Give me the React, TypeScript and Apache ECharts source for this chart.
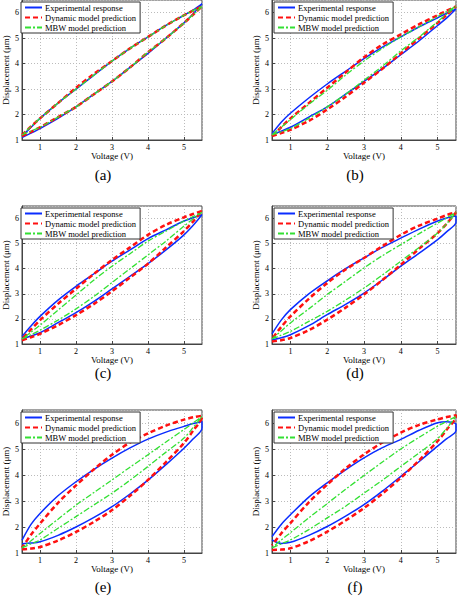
import React, { useEffect, useRef } from 'react';
import * as echarts from 'echarts';

// Voltage samples (V) shared by every loop branch
const xs = [0.5, 0.75, 1, 1.5, 2, 2.5, 3, 3.5, 4, 4.5, 5, 5.25, 5.5];
const seriesNames = ['Experimental response', 'Dynamic model prediction', 'MBW model prediction'];
const panelLabels = ['(a)', '(b)', '(c)', '(d)', '(e)', '(f)'];
const xAxisName = 'Voltage (V)';
const yAxisName = 'Displacement (μm)';

// (a)
const expUpA = [1.15, 1.5, 1.85, 2.45, 3.0, 3.55, 4.1, 4.6, 5.05, 5.5, 5.9, 6.1, 6.35];
const expLoA = [1.1, 1.27, 1.45, 1.85, 2.3, 2.8, 3.3, 3.85, 4.4, 5.0, 5.6, 5.95, 6.35];
const dynUpA = [1.2, 1.53, 1.85, 2.45, 3.05, 3.6, 4.1, 4.6, 5.05, 5.5, 5.9, 6.08, 6.25];
const dynLoA = [1.15, 1.32, 1.5, 1.9, 2.3, 2.8, 3.3, 3.85, 4.45, 5.0, 5.6, 5.92, 6.25];
const mbwUpA = [1.2, 1.53, 1.85, 2.45, 3.0, 3.55, 4.1, 4.6, 5.05, 5.5, 5.9, 6.08, 6.25];
const mbwLoA = [1.2, 1.35, 1.5, 1.9, 2.3, 2.8, 3.3, 3.85, 4.45, 5.0, 5.6, 5.92, 6.25];
// (b)
const expUpB = [1.25, 1.7, 2.05, 2.65, 3.2, 3.7, 4.2, 4.65, 5.05, 5.45, 5.8, 5.98, 6.15];
const expLoB = [1.2, 1.35, 1.5, 1.9, 2.3, 2.8, 3.3, 3.8, 4.35, 4.9, 5.5, 5.8, 6.15];
const dynUpB = [1.15, 1.5, 1.85, 2.45, 3.05, 3.65, 4.25, 4.75, 5.15, 5.55, 5.9, 6.08, 6.25];
const dynLoB = [1.15, 1.27, 1.4, 1.75, 2.2, 2.7, 3.25, 3.8, 4.4, 5.0, 5.6, 5.92, 6.25];
const mbwUpB = [1.2, 1.5, 1.8, 2.4, 2.95, 3.55, 4.1, 4.6, 5.05, 5.45, 5.85, 6.05, 6.25];
const mbwLoB = [1.2, 1.32, 1.45, 1.85, 2.3, 2.8, 3.35, 3.9, 4.5, 5.05, 5.65, 5.95, 6.25];
// (c)
const expUpC = [1.3, 1.72, 2.1, 2.75, 3.3, 3.8, 4.3, 4.75, 5.2, 5.55, 5.9, 6.03, 6.15];
const expLoC = [1.2, 1.32, 1.45, 1.85, 2.25, 2.7, 3.2, 3.7, 4.2, 4.75, 5.35, 5.72, 6.15];
const dynUpC = [1.2, 1.58, 1.95, 2.6, 3.2, 3.8, 4.35, 4.85, 5.35, 5.75, 6.05, 6.18, 6.3];
const dynLoC = [1.15, 1.27, 1.4, 1.75, 2.15, 2.6, 3.1, 3.65, 4.2, 4.85, 5.5, 5.88, 6.3];
const mbwUpC = [1.2, 1.47, 1.75, 2.35, 2.95, 3.55, 4.1, 4.6, 5.1, 5.5, 5.9, 6.08, 6.25];
const mbwLoC = [1.2, 1.37, 1.55, 1.95, 2.4, 2.9, 3.45, 4.0, 4.55, 5.1, 5.7, 5.98, 6.25];
// (d)
const expUpD = [1.4, 1.95, 2.37, 3.0, 3.52, 4.0, 4.43, 4.85, 5.22, 5.58, 5.9, 6.02, 6.1];
const expLoD = [1.17, 1.25, 1.37, 1.73, 2.17, 2.58, 3.03, 3.55, 4.1, 4.62, 5.16, 5.48, 5.85];
const dynUpD = [1.2, 1.68, 2.1, 2.8, 3.43, 3.97, 4.43, 4.9, 5.35, 5.72, 6.0, 6.14, 6.25];
const dynLoD = [1.1, 1.15, 1.24, 1.55, 1.97, 2.45, 2.97, 3.55, 4.16, 4.8, 5.42, 5.8, 6.25];
const mbwUpD = [1.2, 1.52, 1.84, 2.4, 2.97, 3.5, 4.03, 4.52, 4.96, 5.4, 5.82, 6.03, 6.25];
const mbwLoD = [1.2, 1.35, 1.5, 1.9, 2.3, 2.75, 3.23, 3.75, 4.3, 4.85, 5.42, 5.8, 6.25];
// (e)
const expUpE = [1.49, 2.1, 2.52, 3.2, 3.74, 4.22, 4.65, 5.04, 5.38, 5.65, 5.87, 5.98, 6.06];
const expLoE = [1.36, 1.38, 1.43, 1.68, 2.0, 2.37, 2.78, 3.27, 3.8, 4.4, 5.03, 5.38, 5.8];
const dynUpE = [1.2, 1.7, 2.13, 2.93, 3.6, 4.22, 4.78, 5.25, 5.6, 5.9, 6.13, 6.22, 6.28];
const dynLoE = [1.14, 1.17, 1.23, 1.48, 1.81, 2.2, 2.65, 3.2, 3.81, 4.5, 5.23, 5.7, 6.25];
const mbwUpE = [1.2, 1.47, 1.75, 2.3, 2.84, 3.33, 3.81, 4.3, 4.78, 5.27, 5.75, 6.0, 6.25];
const mbwLoE = [1.2, 1.35, 1.5, 1.95, 2.4, 2.85, 3.3, 3.8, 4.33, 4.88, 5.42, 5.82, 6.25];
// (f)
const expUpF = [1.63, 2.1, 2.47, 3.15, 3.7, 4.2, 4.66, 5.05, 5.37, 5.72, 6.01, 6.05, 5.95];
const expLoF = [1.5, 1.37, 1.41, 1.68, 2.02, 2.42, 2.86, 3.38, 3.95, 4.52, 5.11, 5.4, 5.7];
const dynUpF = [1.3, 1.75, 2.15, 2.95, 3.63, 4.25, 4.79, 5.25, 5.63, 5.93, 6.14, 6.23, 6.3];
const dynLoF = [1.12, 1.13, 1.18, 1.45, 1.82, 2.25, 2.73, 3.28, 3.89, 4.57, 5.3, 5.75, 6.25];
const mbwUpF = [1.2, 1.5, 1.78, 2.35, 2.9, 3.45, 3.98, 4.5, 5.0, 5.45, 5.88, 6.07, 6.25];
const mbwLoF = [1.2, 1.35, 1.5, 1.9, 2.35, 2.8, 3.3, 3.8, 4.33, 4.85, 5.4, 5.8, 6.25];

const panels = [
  [[expLoA, expUpA], [dynLoA, dynUpA], [mbwLoA, mbwUpA]],
  [[expLoB, expUpB], [dynLoB, dynUpB], [mbwLoB, mbwUpB]],
  [[expLoC, expUpC], [dynLoC, dynUpC], [mbwLoC, mbwUpC]],
  [[expLoD, expUpD], [dynLoD, dynUpD], [mbwLoD, mbwUpD]],
  [[expLoE, expUpE], [dynLoE, dynUpE], [mbwLoE, mbwUpE]],
  [[expLoF, expUpF], [dynLoF, dynUpF], [mbwLoF, mbwUpF]],
];

const FONT = 'Liberation Serif';

function loop(lo: number[], up: number[]) {
  const a = lo.map((y, i) => [xs[i], y]);
  const b = up.map((y, i) => [xs[i], y]).reverse();
  return a.concat(b);
}

const colLeft = [19, 272];
const colWidth = [183, 184];
const rowTop = [0, 206, 410];
const rowHeight = [140, 138, 143];
const captionX = [103, 355];
const captionY = [175, 373, 587];

export default function App() {
  const ref = useRef<HTMLDivElement>(null);
  useEffect(() => {
    if (!ref.current) return;
    const chart = echarts.init(ref.current, undefined, { renderer: 'svg' });
    const grid: any[] = [];
    const xAxis: any[] = [];
    const yAxis: any[] = [];
    const series: any[] = [];
    const legend: any[] = [];
    const graphic: any[] = [];
    const lineStyles = [
      { color: '#0a2cff', width: 1.5, type: 'solid' },
      { color: '#ff1010', width: 2.5, type: [5, 3] },
      { color: '#33e033', width: 1.3, type: [6, 2, 2, 2] },
    ];
    panels.forEach((p, k) => {
      const r = Math.floor(k / 2);
      const c = k % 2;
      grid.push({
        left: colLeft[c], top: rowTop[r], width: colWidth[c], height: rowHeight[r],
        show: true, borderColor: '#444', borderWidth: 1, backgroundColor: '#fff',
      });
      xAxis.push({
        type: 'value', gridIndex: k, min: 0.5, max: 5.5, splitNumber: 5,
        name: xAxisName, nameLocation: 'middle', nameGap: 10,
        nameTextStyle: { fontFamily: FONT, fontSize: 9, color: '#000' },
        axisLine: { show: true, lineStyle: { color: '#444' } },
        axisTick: { show: true, inside: true, length: 3, lineStyle: { color: '#444' } },
        axisLabel: { fontFamily: FONT, fontSize: 8, color: '#000', margin: 3, showMinLabel: false, showMaxLabel: false },
        splitLine: { show: true, lineStyle: { color: '#bbb', type: [1, 2], width: 1 } },
      });
      yAxis.push({
        type: 'value', gridIndex: k, min: 1, max: 6.5, interval: 1,
        name: yAxisName, nameLocation: 'middle', nameGap: 12,
        nameTextStyle: { fontFamily: FONT, fontSize: 9, color: '#000' },
        axisLine: { show: true, lineStyle: { color: '#444' } },
        axisTick: { show: true, inside: true, length: 3, lineStyle: { color: '#444' } },
        axisLabel: { fontFamily: FONT, fontSize: 8, color: '#000', margin: 3, showMaxLabel: false },
        splitLine: { show: true, lineStyle: { color: '#bbb', type: [1, 2], width: 1 } },
      });
      p.forEach((pair, j) => {
        series.push({
          type: 'line', name: seriesNames[j], xAxisIndex: k, yAxisIndex: k,
          data: loop(pair[0], pair[1]), symbol: 'none', smooth: 0.3,
          lineStyle: lineStyles[j], color: lineStyles[j].color, z: 2 + j,
        });
      });
      legend.push({
        data: seriesNames, orient: 'vertical', left: colLeft[c] + 2, top: rowTop[r] + 2,
        itemWidth: 17, itemHeight: 9, itemGap: 1, padding: [1, 4, 1, 3],
        borderColor: '#333', borderWidth: 1, backgroundColor: '#fff',
        textStyle: { fontFamily: FONT, fontSize: 8.5, color: '#000', padding: [0, 0, 0, -2] },
        itemStyle: { opacity: 0 }, selectedMode: false,
      });
      graphic.push({
        type: 'text', x: captionX[c], y: captionY[r],
        style: { text: panelLabels[k], font: `15px ${FONT}`, fill: '#000', align: 'center', verticalAlign: 'middle' },
      });
    });
    chart.setOption({
      animation: false,
      backgroundColor: '#fff',
      grid, xAxis, yAxis, series, legend, graphic,
    });
    return () => chart.dispose();
  }, []);
  return <div ref={ref} style={{ position: 'fixed', left: 0, top: 0, width: 457, height: 596 }} />;
}
